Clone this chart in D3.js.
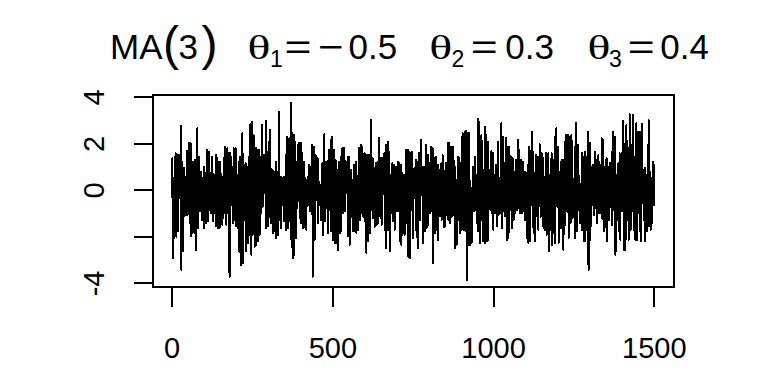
<!DOCTYPE html>
<html><head><meta charset="utf-8">
<script src="https://cdn.jsdelivr.net/npm/d3@7"></script>
<style>body{margin:0;background:#fff}svg{display:block}</style>
</head><body>
<svg id="chart" width="768" height="384"></svg>
<script>
// ---- data ----
const xTicks = [0, 500, 1000, 1500];
const yTicks = [-4, -2, 0, 2, 4];
const yTickLabels = ["-4", "", "0", "2", "4"];
const titleMain = "MA";
const titleOrder = "3";
const thetaIdx = ["1", "2", "3"];
const thetaVals = ["\u22120.5", "0.3", "0.4"];
const values = [
-0.35,1.36,-0.4,-2.94,0.3, 0.5,-0.6,-2.08,0.2,-0.3, -0.5,1.58,0.1,-2.01,0.6, 1.5,-0.7,0.4,-1.79,0.2, 0.3,1.5,-0.2,0.8,-0.36,0.4,
-0.1,2.75,-0.8,-3.44,0.5, 1.22,-0.4,-2.65,0.3,-0.6, 0.6,-1.15,0.93,-0.5,0.2, -0.7,0.57,-1.07,0.1,-0.3, 0.4,1.68,-0.6,-1.07,0.8,-0.2,
2.01,-0.5,0.3,-1.43,0.7, -0.4,2.01,-2.01,0.6,-0.2, 0.5,-1.86,1.22,-0.3,0.1, -0.6,1.08,-0.2,-1.86,0.4, 1.29,-0.8,0.2,-2.58,0.6,-0.4,
0.3,2.65,-1.65,0.5,-0.7, 1.43,-0.4,0.6,-0.93,0.2, -0.5,0.79,-0.86,0.3,-0.2, 0.5,-1.29,0.1,-0.6,0.3, -0.4,1.0,-1.65,0.5,-0.3,0.2,
0.72,-0.8,0.1,-1.43,0.4, -0.5,1.72,-1.36,0.3,-0.2, 1.65,-0.86,0.6,-0.3,0.2, -0.6,0.72,-1.0,0.4,-0.1, 0.3,1.43,-0.5,-1.36,0.7,-0.2,
0.65,-1.0,0.2,-0.6,0.4, -0.3,1.5,-1.58,0.5,-0.7, 1.36,-0.4,-1.65,0.6,0.1, -0.5,1.22,0.2,-1.65,0.4, 1.22,-0.6,0.3,-1.15,0.7,-0.2,
0.43,-1.5,-0.1,-0.7,0.2, -0.4,1.36,-1.0,0.5,-0.3, 1.86,-0.7,0.3,-1.5,0.6, -0.5,1.79,-1.0,0.2,-0.3, 0.6,1.58,-0.4,-3.73,0.5,-0.2,
1.58,-0.64,0.4,-0.2,0.7, -0.6,1.0,-1.43,0.3,-0.1, 1.79,-0.5,0.6,-1.29,0.2, -0.4,1.79,-1.58,0.4,-0.7, 0.65,-0.6,-1.65,0.3,-0.2,0.5,
-0.5,1.22,-2.65,0.4,-0.3, 1.43,-0.2,-3.22,0.6,0.1, -0.4,2.44,0.3,-3.15,0.5, 1.08,-0.7,0.2,-1.29,0.4, -0.3,1.15,-2.65,0.5,-0.6,0.2,
1.0,-0.5,-2.29,0.3,-0.1, -0.6,1.43,-1.93,0.6,0.0, 2.82,-0.4,0.5,-2.79,0.3, -0.2,2.94,-1.93,0.4,-0.6, 2.36,-0.8,0.3,-2.44,0.7,-0.3,
-0.5,1.79,-2.36,0.2,0.6, 1.72,-0.4,-2.22,0.5,-0.1, -0.7,1.72,0.1,-1.93,0.4, 1.43,-0.3,0.5,-1.0,0.2, -0.4,2.79,-0.72,0.6,-0.2,0.3,
1.5,0.2,0.7,-0.14,0.9, 0.3,2.97,-1.65,0.5,-0.4, 1.65,-0.6,0.2,-1.58,0.5, -0.3,2.08,-1.15,0.6,0.1, 2.58,-0.5,0.4,-1.43,0.7,-0.2,
-0.6,0.86,-1.86,0.2,-0.1, 0.79,-0.4,-1.79,0.3,-0.7, 0.1,1.22,-2.08,0.5,-0.3, 0.79,-0.8,0.2,-1.93,0.4, -0.2,3.37,-0.6,-1.29,0.5,0.1,
0.57,-1.65,-0.2,0.3,-0.5, -0.3,0.5,-0.64,0.2,0.4, 0.57,-0.5,-1.36,0.1,-0.2, -0.4,1.5,-1.72,0.6,0.2, 2.29,-0.6,0.3,-1.65,0.8,-0.1,
-0.5,2.22,-1.36,0.4,0.1, 0.6,3.76,-0.3,-2.44,0.5, 2.44,-0.2,-2.94,0.7,-0.4, -0.3,2.36,-2.79,0.5,0.2, 2.08,-0.7,0.4,-2.08,0.6,-0.2,
-0.1,1.93,-0.5,0.7,0.3, 2.01,-0.4,0.5,-1.22,0.2, -0.6,2.01,-1.43,0.4,-0.1, 1.58,-0.3,-1.65,0.6,0.2, -0.5,1.22,-1.58,0.3,-0.2,0.5,
0.43,-0.6,-1.72,0.1,-0.3, -0.2,0.57,-0.64,0.3,0.1, 1.08,-0.5,0.4,-0.93,0.2, -0.3,1.0,-0.5,0.5,0.1, 1.93,-0.4,-3.73,0.6,-0.2,0.3,
-0.5,1.86,-2.15,0.4,-0.1, 1.5,0.2,-0.43,0.6,0.1, -0.4,1.36,-1.43,0.5,-0.2, 0.36,-0.64,0.0,-0.3,0.2, -0.5,0.1,-1.29,-0.2,-0.7,0.0,
1.15,-0.6,-1.93,0.3,-0.1, 0.2,2.39,-1.36,0.5,-0.4, 1.22,-0.3,0.4,-0.79,0.1, -0.6,1.22,-1.86,0.5,0.0, 1.72,-0.4,0.3,-0.86,0.6,-0.1,
-0.5,2.15,-1.79,0.4,0.2, 2.29,-0.3,-2.15,0.6,-0.2, -0.7,1.72,0.1,-2.29,0.4, 1.29,-0.5,-2.29,0.3,-0.1, -0.4,0.86,-2.58,0.2,-0.6,0.5,
1.22,-0.3,-1.86,0.4,0.0, -0.6,1.43,-1.79,0.5,0.1, 1.79,-0.4,0.3,-1.0,0.6, -0.2,1.79,-0.93,0.5,0.1, 1.22,0.2,0.8,-0.14,0.5,0.9,
0.3,1.43,-2.01,0.5,-0.4, 1.43,-0.6,-2.36,0.2,0.6, -0.3,0.86,-1.15,0.4,0.0, 0.43,-0.5,-1.79,0.1,-0.2, -0.6,1.08,-1.79,0.3,-0.1,0.5,
1.22,-0.4,-1.86,0.6,0.0, -0.5,0.3,-1.72,-0.2,-0.8, 1.79,-0.3,0.4,-1.29,0.6, -0.2,1.93,-1.0,0.5,0.1, 1.86,-0.5,0.3,-1.15,0.7,-0.1,
-0.4,1.58,-1.36,0.5,0.2, 1.53,-0.3,-2.72,0.4,-0.1, -0.6,1.5,-2.22,0.6,0.1, 1.5,-0.5,-1.86,0.3,-0.2, 0.4,3.01,-0.86,0.6,-0.3,0.2,
1.36,-0.5,-1.22,0.4,0.0, -0.4,0.93,-1.58,0.3,-0.1, 1.15,-0.6,0.2,-1.5,0.5, -0.3,1.22,-1.43,0.6,0.1, 2.22,-0.4,0.5,-1.15,0.7,-0.2,
-0.5,1.36,-1.5,0.4,0.0, 1.36,0.3,-0.14,0.7,0.2, -0.2,1.58,-1.72,0.5,-0.4, 1.93,-0.3,-2.51,0.6,0.1, -0.5,2.08,-1.72,0.4,-0.1,0.6,
1.65,-0.4,-2.65,0.3,0.0, -0.6,0.65,-1.0,0.2,-0.3, 1.15,-0.5,0.4,-1.36,0.1, -0.3,1.08,-1.72,0.5,0.0, 1.0,-0.4,0.3,-0.93,0.6,-0.1,
-0.5,1.22,-0.93,0.4,0.1, 1.15,-0.3,-2.22,0.5,-0.1, -0.6,1.08,-2.36,0.3,0.2, 0.72,-0.5,-1.86,0.1,-0.2, -0.4,0.65,-1.93,0.2,-0.6,0.4,
1.72,-0.3,0.4,-1.43,0.6, -0.2,1.72,-2.87,0.5,0.1, 1.65,-0.5,-2.94,0.4,-0.1, 0.2,1.58,-0.86,0.6,-0.3, 1.65,-0.4,-2.08,0.3,0.7,-0.2,
0.1,0.93,-0.36,0.5,0.2, 1.29,-0.5,-2.01,0.4,0.0, -0.3,1.22,-2.51,0.6,0.1, 1.58,-0.4,0.3,-1.29,0.5, 0.4,2.15,-0.21,0.7,0.1,0.8,
1.0,-0.6,-2.29,0.3,-0.1, -0.4,1.0,-1.79,0.5,0.0, 1.93,-0.3,-1.65,0.4,0.1, -0.5,1.5,-1.5,0.6,0.0, 1.15,-0.4,0.3,-1.0,0.5,-0.2,
-0.3,1.86,-0.93,0.6,0.1, 1.79,-0.5,-3.15,0.4,-0.1, -0.4,1.36,-1.86,0.3,0.2, 1.43,-0.6,-1.72,0.5,0.0, -0.5,1.08,-2.15,0.4,-0.2,0.6,
0.86,-0.4,-1.15,0.3,0.0, -0.3,1.15,-1.29,0.5,0.1, 1.5,-0.5,0.2,-1.58,0.4, -0.4,0.79,-1.58,0.3,0.0, 1.15,-0.3,0.4,-1.07,0.6,-0.2,
-0.5,2.01,-1.29,0.4,0.1, 2.01,-0.4,-1.43,0.5,0.0, -0.3,1.86,-1.15,0.6,0.2, 1.86,-0.5,0.3,-1.07,0.4, -0.2,1.22,-2.51,0.5,-0.4,0.3,
0.43,-0.6,-2.36,0.1,-0.3, -0.4,1.43,-1.29,0.5,0.0, 1.36,-0.3,-1.86,0.4,0.1, -0.5,1.15,-1.72,0.6,0.0, 2.44,-0.4,0.3,-1.72,0.7,-0.1,
-0.3,2.51,-1.72,0.5,0.2, 2.54,-0.5,-3.87,0.4,0.1, -0.2,2.44,-2.36,0.6,0.0, 2.44,-0.4,-2.36,0.3,-0.1, -0.6,0.1,-2.29,-0.3,-0.9,0.0,
1.0,-0.3,0.4,-0.93,0.2, -0.2,1.43,-0.86,0.5,0.1, 0.65,-0.4,-1.43,0.3,-0.1, -0.3,3.04,-1.79,0.6,0.2, 2.94,-0.5,0.3,-2.29,0.7,-0.1,
-0.4,2.36,-1.29,0.5,0.0, 0.86,-0.3,-2.22,0.4,-0.1, -0.5,2.72,-2.29,0.6,0.2, 2.36,-0.4,-2.22,0.3,0.0, -0.3,2.08,-2.15,0.5,-0.1,0.6,
0.86,-0.4,0.2,-0.86,0.5, -0.2,1.65,-1.0,0.4,0.1, 1.58,-0.5,-1.72,0.3,0.0, -0.4,0.65,-1.0,0.2,-0.1, 1.08,-0.3,0.4,-1.58,0.6,-0.2,
-0.5,2.08,-1.07,0.5,0.1, -0.4,0.1,-1.0,-0.2,-0.7, 0.3,2.87,-1.65,0.6,-0.1, 2.29,-0.4,0.5,-0.93,0.2, -0.3,1.15,-1.15,0.4,-0.1,0.6,
2.22,-0.5,-2.15,0.3,0.0, -0.4,1.86,-2.08,0.5,0.1, 1.86,-0.3,0.4,-0.86,0.6, -0.2,1.43,-1.65,0.5,0.0, 1.36,-0.4,0.3,-1.29,0.6,-0.1,
-0.5,0.79,-1.0,0.3,0.1, 1.29,-0.3,0.4,-0.86,0.2, -0.2,2.15,-0.79,0.5,0.1, 1.72,-0.4,0.3,-1.0,0.6, -0.3,1.29,-1.0,0.5,-0.1,0.4,
1.22,-0.4,0.3,-0.93,0.5, -0.2,0.79,-1.29,0.4,0.0, 0.72,-0.5,-2.08,0.3,-0.1, -0.4,1.08,-2.29,0.5,0.1, 1.86,-0.3,-2.22,0.4,0.7,-0.2,
0.1,2.51,-0.64,0.6,0.2, 1.65,-0.4,-1.86,0.3,0.0, -0.5,0.72,-2.22,0.2,-0.1, 1.5,-0.3,0.4,-1.15,0.6, -0.2,1.43,-1.72,0.5,-0.4,0.3,
1.96,-0.3,0.4,-1.15,0.6, -0.1,1.58,-0.64,0.5,0.2, 1.36,-0.4,-1.65,0.3,0.0, -0.5,0.57,-1.72,0.2,-0.2, 1.58,-0.3,-1.93,0.4,0.6,-0.1,
-0.4,1.58,-2.65,0.5,0.1, 0.65,-0.3,-1.72,0.2,-0.1, -0.5,1.58,-2.36,0.4,0.0, 1.29,-0.4,-1.86,0.5,0.1, -0.3,2.29,-2.29,0.6,-0.1,0.4,
2.65,-0.2,0.5,-0.72,0.3, -0.4,1.86,-2.29,0.5,0.0, 0.79,-0.3,-1.65,0.2,-0.1, -0.5,1.29,-1.65,0.4,0.1, 1.29,-0.4,-2.58,0.3,0.6,-0.2,
-0.3,2.08,-1.5,0.5,0.1, 2.36,-0.4,0.3,-0.93,0.6, -0.2,2.36,-2.08,0.5,0.0, 2.29,-0.5,0.3,-1.43,0.4, -0.3,2.36,-1.22,0.6,-0.1,0.5,
0.36,-0.5,-1.15,0.0,-0.3, -0.4,1.86,-2.08,0.5,0.1, 2.87,-0.3,-1.79,0.4,0.0, -0.2,1.93,-0.86,0.6,0.1, 0.29,-0.6,-1.43,-0.1,-0.4,0.1,
-0.3,1.58,-1.72,0.5,0.0, 1.43,-0.4,-2.22,0.3,0.1, -0.5,1.65,-2.22,0.6,0.0, 1.43,-0.3,-1.72,0.4,0.1, -0.2,2.51,-3.44,0.5,-0.4,0.3,
2.01,-0.3,-2.15,0.4,0.0, -0.2,1.0,-0.64,0.5,0.2, 1.08,-0.4,0.3,-1.07,0.5, -0.1,1.65,-0.79,0.4,0.2, 1.29,-0.4,0.3,-1.43,0.6,-0.2,
-0.3,1.5,-1.0,0.5,0.1, 1.08,-0.4,0.3,-1.0,0.6, -0.2,2.22,-1.22,0.5,0.0, 2.15,-0.3,-1.79,0.4,0.1, -0.5,1.0,-1.58,0.3,-0.1,0.5,
1.36,-0.4,-2.22,0.4,0.0, -0.3,1.0,-1.29,0.5,0.1, 1.15,-0.2,0.4,-0.72,0.3, -0.4,1.65,-1.5,0.5,0.0, 2.51,-0.3,0.4,-0.86,0.6,-0.1,
-0.2,2.29,-2.79,0.5,0.1, 0.65,-0.4,-1.29,0.2,-0.1, -0.5,1.15,-1.79,0.4,0.0, 1.58,-0.3,-2.15,0.5,0.1, -0.2,1.58,-0.93,0.6,0.1,0.4,
2.97,-0.4,-2.58,0.3,0.0, -0.3,1.96,-2.58,0.5,0.1, 2.79,-0.4,0.3,-1.29,0.6, -0.2,1.08,-2.15,0.4,0.0, 3.25,-0.5,0.3,-1.72,0.6,-0.1,
-0.3,1.93,-0.93,0.5,0.1, 3.22,-0.4,-1.72,0.4,0.0, -0.2,1.43,-2.15,0.6,0.1, 2.87,-0.3,-2.15,0.5,0.0, -0.4,2.51,-1.0,0.6,-0.1,0.3,
2.51,-0.3,-2.22,0.4,0.1, -0.1,2.82,-0.57,0.6,0.2, 0.86,-0.4,-1.29,0.3,0.0, -0.3,0.93,-2.22,0.4,0.1, 0.65,-0.4,-1.79,0.2,-0.2,0.4,
-0.3,3.01,-1.58,0.5,0.0, 0.79,-0.4,-1.72,0.3,0.1, -0.2,0.5,-1.43,0.2,-0.3, 1.22,-0.1,0.4,-0.64,1.1
];

// ---- layout ----
const box = {l: 152.7, r: 673.7, t: 95.3, b: 287};
const sans = "'Liberation Sans', Arial, sans-serif";
const serif = "'Liberation Serif', 'Times New Roman', serif";
const n = values.length;
const svg = d3.select("#chart");
svg.append("rect").attr("width", 768).attr("height", 384).attr("fill", "#fff");

const ext = d3.extent(values), yr = ext[1] - ext[0];
const x = d3.scaleLinear().domain([1 - 0.04 * (n - 1), n + 0.04 * (n - 1)]).range([box.l, box.r]);
const y = d3.scaleLinear().domain([ext[0] - 0.04 * yr, ext[1] + 0.04 * yr]).range([box.b, box.t]);

// series line
svg.append("path")
  .datum(values)
  .attr("fill", "none")
  .attr("stroke", "#000")
  .attr("stroke-width", 2)
  .attr("stroke-linejoin", "round")
  .attr("shape-rendering", "crispEdges")
  .attr("d", d3.line().x((d, i) => x(i + 1)).y(d => y(d)));

// box
svg.append("rect")
  .attr("x", box.l).attr("y", box.t)
  .attr("width", box.r - box.l).attr("height", box.b - box.t)
  .attr("fill", "none").attr("stroke", "#000").attr("stroke-width", 2)
  .attr("shape-rendering", "crispEdges");

// x axis
const gx = svg.append("g").attr("transform", `translate(0,${box.b})`)
  .call(d3.axisBottom(x).tickValues(xTicks).tickSize(19.5).tickFormat(d3.format("d")));
gx.select(".domain").remove();
gx.selectAll(".tick line").attr("stroke", "#000").attr("stroke-width", 2).attr("shape-rendering", "crispEdges");
gx.selectAll(".tick text")
  .attr("y", 357.7 - box.b).attr("dy", 0)
  .attr("fill", "#000").attr("font-family", sans).attr("font-size", 29);

// y axis
const gy = svg.append("g").attr("transform", `translate(${box.l},0)`)
  .call(d3.axisLeft(y).tickValues(yTicks).tickSize(18.7).tickFormat((d, i) => yTickLabels[i]));
gy.select(".domain").remove();
gy.selectAll(".tick line").attr("stroke", "#000").attr("stroke-width", 2).attr("shape-rendering", "crispEdges");
gy.selectAll(".tick text")
  .attr("x", 0).attr("y", 0).attr("dy", 0)
  .attr("text-anchor", "middle")
  .attr("transform", `translate(${104 - box.l},0) rotate(-90)`)
  .attr("fill", "#000").attr("font-family", sans).attr("font-size", 29);

// title (plotmath-like)
const title = svg.append("g").attr("fill", "#000");
function piece(s, px, py, fs, fam, sx) {
  const t = title.append("text").text(s)
    .attr("font-family", fam).attr("font-size", fs);
  if (sx) t.attr("transform", `translate(${px},${py}) scale(${sx},1)`);
  else t.attr("x", px).attr("y", py);
  return t;
}
const base = 59.3, subBase = 66.7;
piece(titleMain, 110, base, 35, sans);
piece("(", 163, 60, 48, sans);
piece(titleOrder, 178.5, base, 35, sans);
piece(")", 201.6, 60, 48, sans);
const thetaX = [247.5, 429.2, 587.5];
const subX = [270, 451.6, 609];
const eqX = [284.5, 470.8, 627.8];
const valX = [317.8, 505.2, 660.2];
thetaIdx.forEach((k, i) => {
  piece("\u03B8", thetaX[i], base, 33, serif, 1.45);
  piece(k, subX[i], subBase, 23, sans);
  piece("=", eqX[i], base, 35, sans, 1.32);
  const v = thetaVals[i];
  if (v.startsWith("\u2212")) {
    piece("\u2212", valX[i], base, 35, sans, 1.25);
    piece(v.slice(1), 348.5, base, 35, sans);
  } else {
    piece(v, valX[i], base, 35, sans);
  }
});
</script>
</body></html>
